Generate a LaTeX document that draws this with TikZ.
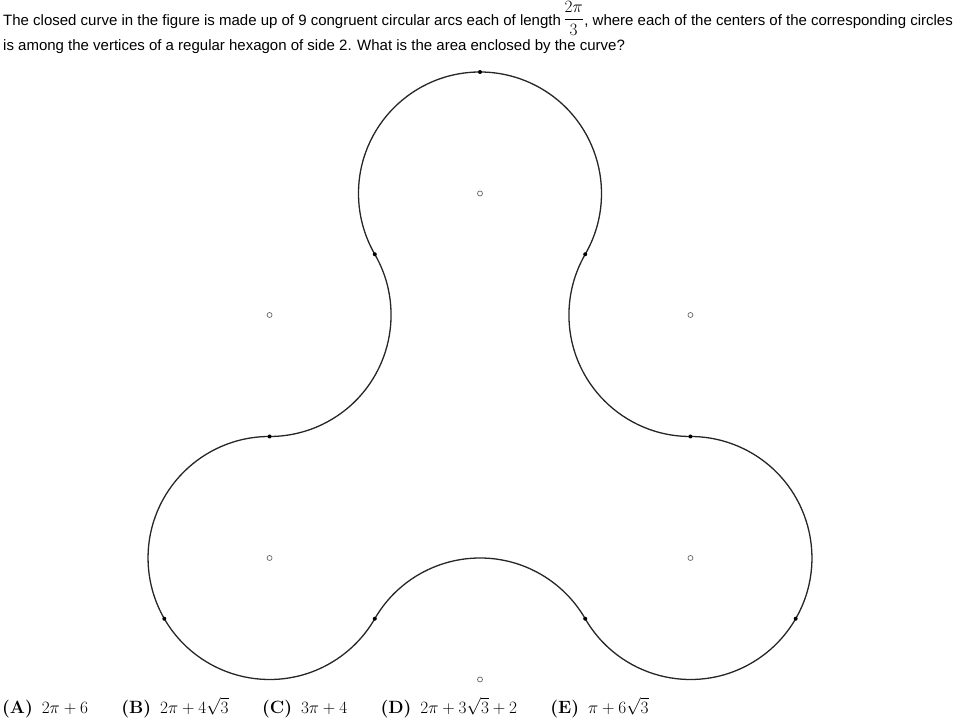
\documentclass[tikz,border=0pt]{standalone}
\usepackage{amsmath}
\usepackage[no-math]{fontspec}
\newfontfamily\promptfont{Liberation Sans}
\usetikzlibrary{positioning}
\tikzstyle{centre} = [circle, draw=black!60, line width=0.7pt, fill=white, inner sep=0, minimum size=5pt]
\tikzstyle{joint} = [circle, fill=black, inner sep=0, minimum size=4pt]
\tikzstyle{curve} = [line width=1.3pt, draw=black!85]
\tikzstyle{prompt} = [inner sep=0, font=\promptfont\fontsize{15}{18}\selectfont]
\tikzstyle{choice} = [inner sep=0, font=\fontsize{17.8}{21}\selectfont]

\begin{document}
\begin{tikzpicture}[x=121.5pt, y=121.5pt, node distance=0pt and 33pt]
	\useasboundingbox (-480pt,-282.5pt) rectangle (478pt,436.5pt);
	% question text
	\node (question_a) [prompt, anchor=base west] at (-477pt,410.5pt) {The closed curve in the figure is made up of 9 congruent circular arcs each of length};
	\node (arc_length) [inner sep=0, font=\fontsize{17}{20}\selectfont, base right=2pt of question_a, yshift=2pt] {$\dfrac{2\pi}{3}$};
	\node (question_b) [prompt, base right=0pt of arc_length, yshift=-2pt] {, where each of the centers of the corresponding circles};
	\node (question_c) [prompt, anchor=base west] at (-477pt,385.5pt) {is among the vertices of a regular hexagon of side 2. What is the area enclosed by the curve?};
	% centres of the circles
	\node (top_centre) [centre] at (0,2) {};
	\node (upper_left_centre) [centre] at (-1.732,1) {};
	\node (upper_right_centre) [centre] at (1.732,1) {};
	\node (lower_left_centre) [centre] at (-1.732,-1) {};
	\node (lower_right_centre) [centre] at (1.732,-1) {};
	\node (bottom_centre) [centre] at (0,-2) {};
	% the closed curve
	\coordinate (curve_start) at (0,3);
	\draw [curve] (curve_start) arc[start angle=90, end angle=210, radius=1]
		arc[start angle=30, end angle=-90, radius=1]
		arc[start angle=90, end angle=210, radius=1]
		arc[start angle=210, end angle=330, radius=1]
		arc[start angle=150, end angle=30, radius=1]
		arc[start angle=210, end angle=330, radius=1]
		arc[start angle=-30, end angle=90, radius=1]
		arc[start angle=270, end angle=150, radius=1]
		arc[start angle=-30, end angle=90, radius=1] -- cycle;
	% joints between the arcs
	\node (top_joint) [joint] at (curve_start) {};
	\node (upper_left_joint) [joint] at (-0.866,1.5) {};
	\node (upper_right_joint) [joint] at (0.866,1.5) {};
	\node (left_joint) [joint] at (-1.732,0) {};
	\node (right_joint) [joint] at (1.732,0) {};
	\node (far_left_joint) [joint] at (-2.598,-1.5) {};
	\node (lower_left_joint) [joint] at (-0.866,-1.5) {};
	\node (lower_right_joint) [joint] at (0.866,-1.5) {};
	\node (far_right_joint) [joint] at (2.598,-1.5) {};
	% answer choices
	\node (choice_a) [choice, anchor=base west] at (-478pt,-276.5pt) {\textbf{(A)}\enspace$2\pi+6$};
	\node (choice_b) [choice, base right=of choice_a] {\textbf{(B)}\enspace$2\pi+4\sqrt{3}$};
	\node (choice_c) [choice, base right=of choice_b] {\textbf{(C)}\enspace$3\pi+4$};
	\node (choice_d) [choice, base right=of choice_c] {\textbf{(D)}\enspace$2\pi+3\sqrt{3}+2$};
	\node (choice_e) [choice, base right=of choice_d] {\textbf{(E)}\enspace$\pi+6\sqrt{3}$};
\end{tikzpicture}
\end{document}
